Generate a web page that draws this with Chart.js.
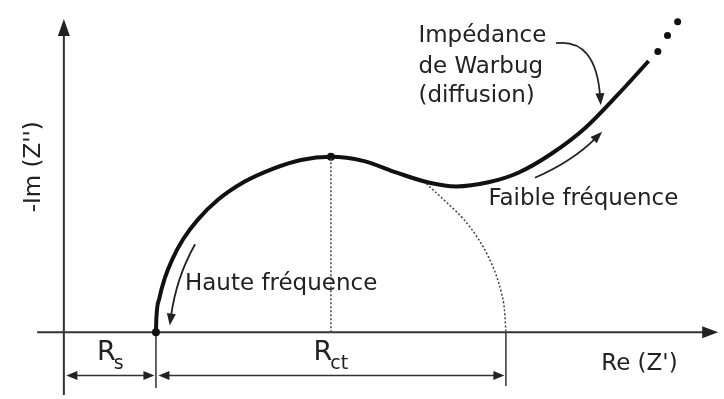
<!DOCTYPE html>
<html>
<head>
<meta charset="utf-8">
<script src="https://cdn.jsdelivr.net/npm/chart.js@4.4.1/dist/chart.umd.min.js"></script>
<style>
  html, body { margin: 0; padding: 0; background: #fff; }
  #wrap { width: 724px; height: 399px; }
</style>
</head>
<body>
<div id="wrap"><canvas id="nyquist"></canvas></div>
<script>
// Nyquist plot: Re(Z') vs -Im(Z'')
const Rs = 20;
const Rct = 76;
const peakIm = 38.5;

// charge-transfer arc followed by the Warburg tail
const curveRe = [20, 20.1, 20.75, 21.9, 23.6, 25.9, 29.1, 33.4, 39.0, 45.5, 51.5, 58, 65.0, 72.3, 79.4, 85.2, 92.2, 98.7, 105.8, 113.1, 120.2, 127.0];
const curveIm = [0, 3.2, 7.5, 11.8, 16.1, 20.4, 24.7, 29.0, 32.9, 35.9, 37.8, 38.5, 37.6, 35.0, 32.8, 32.0, 32.9, 35.0, 39.1, 44.7, 52.0, 59.5];

// rest of the ideal semicircle (dotted)
const arcRe = [78.7, 83, 87, 90, 92, 94, 95, 95.7, 96];
const arcIm = [32.6, 28.6, 24.6, 20.5, 17.0, 12.2, 8.7, 4.8, 0];

// trailing dots
const tailRe = [129.0, 131.1, 133.3];
const tailIm = [61.6, 65.1, 68.1];

const pts = (xs, ys) => xs.map((x, i) => ({ x: x, y: ys[i] }));
const font = '"DejaVu Sans", sans-serif';

function head(ctx, x, y, ang, len, half) {
    ctx.save();
    ctx.translate(x, y);
    ctx.rotate(ang);
    ctx.beginPath();
    ctx.moveTo(0, 0);
    ctx.lineTo(-len, -half);
    ctx.lineTo(-len, half);
    ctx.closePath();
    ctx.fill();
    ctx.restore();
}

// axes, dimension lines, labels and arrows
const decor = {
    id: 'decor',
    beforeDatasetsDraw(chart) {
        const ctx = chart.ctx, sx = chart.scales.x, sy = chart.scales.y;
        const X = v => sx.getPixelForValue(v), Y = v => sy.getPixelForValue(v);
        ctx.save();
        ctx.strokeStyle = '#333';
        ctx.fillStyle = '#222';

        // axes
        ctx.lineWidth = 2;
        ctx.beginPath();
        ctx.moveTo(X(-5.8), Y(0)); ctx.lineTo(X(141), Y(0));
        ctx.moveTo(X(0), Y(-13.75)); ctx.lineTo(X(0), Y(67.5));
        ctx.stroke();
        head(ctx, X(142.1), Y(0), 0, 16, 6);
        head(ctx, X(0), Y(68.7), -Math.PI / 2, 17, 6);

        // extension lines
        ctx.lineWidth = 1.5;
        ctx.beginPath();
        ctx.moveTo(X(Rs), Y(0)); ctx.lineTo(X(Rs), Y(-12.2));
        ctx.moveTo(X(Rs + Rct), Y(0)); ctx.lineTo(X(Rs + Rct), Y(-11.8));
        ctx.stroke();

        // dimension arrows
        const dy = Y(-9.45);
        const dims = [[X(0) + 2.5, X(Rs) - 1.5], [X(Rs) + 2.5, X(Rs + Rct) - 1.5]];
        dims.forEach(([a, b]) => {
            ctx.beginPath();
            ctx.moveTo(a + 8, dy); ctx.lineTo(b - 8, dy);
            ctx.stroke();
            head(ctx, a, dy, Math.PI, 11, 4.5);
            head(ctx, b, dy, 0, 11, 4.5);
        });
        ctx.restore();
    },
    afterDatasetsDraw(chart) {
        const ctx = chart.ctx, sx = chart.scales.x, sy = chart.scales.y;
        const X = v => sx.getPixelForValue(v), Y = v => sy.getPixelForValue(v);
        ctx.save();
        ctx.fillStyle = '#222';
        ctx.strokeStyle = '#222';
        ctx.textBaseline = 'alphabetic';

        // R_s and R_ct
        ctx.font = '27px ' + font;
        const rW = ctx.measureText('R').width;
        ctx.fillText('R', X(7.2), Y(-6.0));
        ctx.font = '19px ' + font;
        ctx.fillText('s', X(7.2) + rW - 2, Y(-6.0) + 9);
        const ctW = ctx.measureText('ct').width;
        const left = X(Rs + Rct / 2) - (rW - 2 + ctW) / 2;
        ctx.font = '27px ' + font;
        ctx.fillText('R', left, Y(-6.0));
        ctx.font = '19px ' + font;
        ctx.fillText('ct', left + rW - 2, Y(-6.0) + 9);

        // axis titles
        ctx.font = '23px ' + font;
        ctx.textBaseline = 'middle';
        ctx.fillText("Re (Z')", X(116.7), Y(-6.9));
        ctx.save();
        ctx.translate(X(-6.55), Y(36.3));
        ctx.rotate(-Math.PI / 2);
        ctx.textAlign = 'center';
        ctx.fillText("-Im (Z'')", 0, 0);
        ctx.restore();

        // annotations
        ctx.textBaseline = 'alphabetic';
        ctx.fillText('Haute fréquence', X(26.3), Y(9.2));
        ctx.fillText('Faible fréquence', X(92.2), Y(27.9));
        ctx.fillText('Impédance', X(77.0), Y(63.6));
        ctx.fillText('de Warbug', X(77.0), Y(56.9));
        ctx.fillText('(diffusion)', X(77.0), Y(50.6));

        // curved pointer arrows: [start, control, end]
        const arrows = [
            [[28.5, 19.3], [24.4, 12.0], [23.0, 1.5]],
            [[102.3, 33.9], [110.5, 37.5], [116.9, 44.0]],
            [[106.9, 63.4], [115.6, 64.5], [116.6, 49.8]]
        ];
        ctx.lineWidth = 1.8;
        arrows.forEach(([s, c, e]) => {
            const x0 = X(s[0]), y0 = Y(s[1]), cx = X(c[0]), cy = Y(c[1]), x1 = X(e[0]), y1 = Y(e[1]);
            const ang = Math.atan2(y1 - cy, x1 - cx);
            ctx.beginPath();
            ctx.moveTo(x0, y0);
            ctx.quadraticCurveTo(cx, cy, x1 - 8 * Math.cos(ang), y1 - 8 * Math.sin(ang));
            ctx.stroke();
            head(ctx, x1, y1, ang, 12, 4.5);
        });
        ctx.restore();
    }
};

new Chart(document.getElementById('nyquist'), {
    type: 'scatter',
    data: {
        datasets: [
            {
                data: pts(arcRe, arcIm),
                showLine: true, borderColor: '#444', borderWidth: 1.5,
                borderDash: [2, 2], pointRadius: 0, cubicInterpolationMode: 'monotone'
            },
            {
                data: [{ x: Rs + Rct / 2, y: 0 }, { x: Rs + Rct / 2, y: peakIm }],
                showLine: true, borderColor: '#444', borderWidth: 1.5,
                borderDash: [2, 2], pointRadius: 0
            },
            {
                data: pts(curveRe, curveIm),
                showLine: true, borderColor: '#111', borderWidth: 4,
                pointRadius: 0, cubicInterpolationMode: 'monotone'
            },
            {
                data: [{ x: Rs, y: 0 }, { x: Rs + Rct / 2, y: peakIm }],
                pointRadius: 4, pointBackgroundColor: '#111', pointBorderWidth: 0
            },
            {
                data: pts(tailRe, tailIm),
                pointRadius: 3.5, pointBackgroundColor: '#111', pointBorderWidth: 0
            }
        ]
    },
    options: {
        responsive: true,
        maintainAspectRatio: false,
        animation: false,
        layout: { padding: 0 },
        plugins: { legend: { display: false }, tooltip: { enabled: false } },
        scales: {
            x: { type: 'linear', min: -13, max: 142.5, display: false },
            y: { type: 'linear', min: -13.75, max: 72, display: false }
        }
    },
    plugins: [decor]
});
</script>
</body>
</html>
